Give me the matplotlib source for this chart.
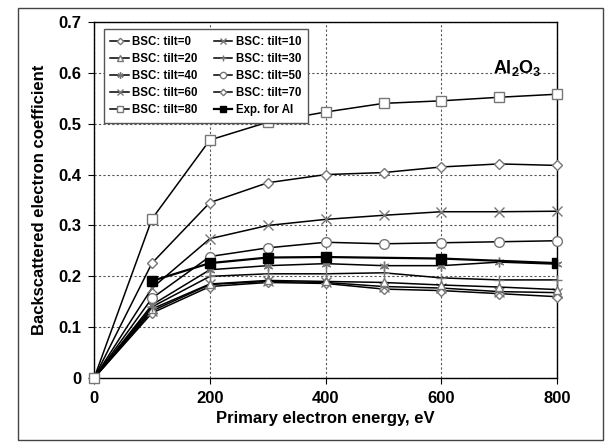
import matplotlib
matplotlib.use("Agg")
import matplotlib.pyplot as plt
from matplotlib.patches import Rectangle

plt.rcParams['font.family'] = ['Liberation Sans', 'DejaVu Sans']
plt.rcParams['font.weight'] = 'bold'
plt.rcParams['mathtext.fontset'] = 'custom'
plt.rcParams['mathtext.bf'] = 'Liberation Sans:bold'
plt.rcParams['mathtext.rm'] = 'Liberation Sans:bold'

energy = [0, 100, 200, 300, 400, 500, 600, 700, 800]
tilt0 = [0, 0.128, 0.180, 0.188, 0.186, 0.175, 0.172, 0.166, 0.160]
tilt10 = [0, 0.132, 0.184, 0.190, 0.188, 0.180, 0.177, 0.170, 0.168]
tilt20 = [0, 0.136, 0.185, 0.192, 0.190, 0.188, 0.183, 0.179, 0.174]
tilt30 = [0, 0.140, 0.200, 0.205, 0.205, 0.207, 0.197, 0.193, 0.193]
tilt40 = [0, 0.144, 0.213, 0.221, 0.225, 0.221, 0.221, 0.228, 0.224]
tilt50 = [0, 0.157, 0.239, 0.256, 0.267, 0.264, 0.266, 0.268, 0.270]
tilt60 = [0, 0.177, 0.274, 0.300, 0.312, 0.320, 0.327, 0.327, 0.328]
tilt70 = [0, 0.226, 0.345, 0.384, 0.400, 0.404, 0.415, 0.421, 0.418]
tilt80 = [0, 0.313, 0.468, 0.503, 0.523, 0.540, 0.545, 0.552, 0.558]
exp_energy = [100, 200, 300, 400, 600, 800]
exp_al = [0.191, 0.226, 0.237, 0.238, 0.235, 0.226]

labels = ['BSC: tilt=0', 'BSC: tilt=10', 'BSC: tilt=20', 'BSC: tilt=30',
          'BSC: tilt=40', 'BSC: tilt=50', 'BSC: tilt=60', 'BSC: tilt=70',
          'BSC: tilt=80', 'Exp. for Al']
series = [tilt0, tilt10, tilt20, tilt30, tilt40, tilt50, tilt60, tilt70, tilt80]
markers = ['D', 'x', '^', '+', (6, 2, 0), 'o', 'x', 'D', 's']
msizes = [5, 7, 6, 7, 7, 7, 7, 5, 7]

fig = plt.figure(figsize=(6.11, 4.48), dpi=100)
ax = fig.add_axes([0.154, 0.156, 0.758, 0.795])

handles = {}
for lab, ys, mk, ms in zip(labels, series, markers, msizes):
    h, = ax.plot(energy, ys, color='black', lw=1.1, marker=mk, ms=ms,
                 mfc='white', mec='#777777', mew=1.0, zorder=3, clip_on=False)
    handles[lab] = h
h, = ax.plot(exp_energy, exp_al, color='black', lw=1.6, marker='s', ms=7,
             mfc='black', mec='black', zorder=4, label='Exp. for Al')
handles['Exp. for Al'] = h

ax.set_xlim(0, 800)
ax.set_ylim(0, 0.7)
ax.set_xticks([0, 200, 400, 600, 800])
ax.set_yticks([0, 0.1, 0.2, 0.3, 0.4, 0.5, 0.6, 0.7])
ax.set_yticklabels(['0', '0.1', '0.2', '0.3', '0.4', '0.5', '0.6', '0.7'])
ax.tick_params(labelsize=12, direction='out', length=4, width=0.8, pad=5)
for t in ax.get_xticklabels() + ax.get_yticklabels():
    t.set_fontweight('bold')
ax.grid(True, linestyle=(0, (2, 2)), color='#555555', lw=0.8)
ax.set_axisbelow(True)
for s in ax.spines.values():
    s.set_color('black')
    s.set_linewidth(1.0)

ax.set_xlabel('Primary electron energy, eV', fontsize=12, fontweight='bold', labelpad=4)
ax.set_ylabel('Backscattered electron coefficient', fontsize=12, fontweight='bold', labelpad=8)

order = ['BSC: tilt=0', 'BSC: tilt=20', 'BSC: tilt=40', 'BSC: tilt=60', 'BSC: tilt=80',
         'BSC: tilt=10', 'BSC: tilt=30', 'BSC: tilt=50', 'BSC: tilt=70', 'Exp. for Al']
leg = ax.legend([handles[k] for k in order], order, ncol=2, loc='upper left',
                bbox_to_anchor=(0.008, 0.997), fontsize=8.3, frameon=True, fancybox=False,
                edgecolor='#555555', framealpha=1, handlelength=1.6, columnspacing=1.4,
                labelspacing=0.45, borderpad=0.6, handletextpad=0.3, markerscale=0.65)
leg.get_frame().set_linewidth(1.0)
for t in leg.get_texts():
    t.set_fontweight('bold')

ax.text(0.965, 0.87, r'$\mathbf{Al_2O_3}$', transform=ax.transAxes, fontsize=13,
        ha='right', va='center')

fig.patches.append(Rectangle((18 / 611, 8 / 448), (603 - 18) / 611, (440 - 8) / 448,
                             transform=fig.transFigure, fill=False, edgecolor='#444444',
                             lw=1.0))

fig.savefig('out.png', dpi=100)
